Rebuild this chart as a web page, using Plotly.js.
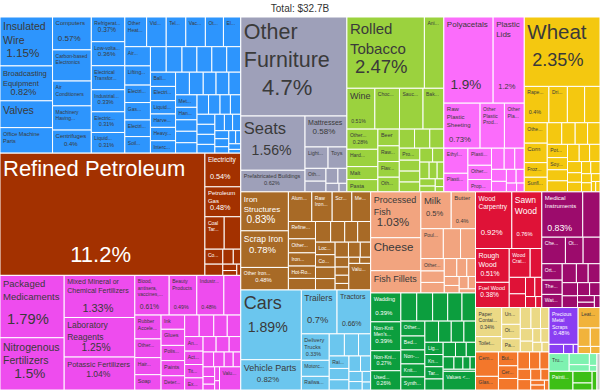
<!DOCTYPE html>
<html>
<head>
<meta charset="utf-8">
<script src="https://cdn.plot.ly/plotly-3.0.1.min.js"></script>
<style>html,body{margin:0;padding:0;background:#fff;}#chart{width:600px;height:390px;}</style>
</head>
<body>
<div id="chart"></div>
<script>
// ---- Data (share of total exports, %) ----
const totalLabel = "Total: $32.7B";

const sectorNames = ["Machines","Mineral Products","Chemical Products","Miscellaneous","Foodstuffs","Plastics and Rubbers","Vegetable Products","Metals","Transportation","Animal Products","Textiles","Wood Products","Instruments","Paper Goods","Stone and Glass","Precious Metals","Footwear and Headwear","Animal Hides","Arts and Antiques","Weapons"];
const sectorColors = ["#2d95fd","#a33100","#ee4cee","#9ea0b9","#9bd23e","#fb6cfb","#f4c810","#a86a26","#6bc6ee","#f2a47f","#0c9e3e","#df1237","#9c0b6c","#ebd985","#f3772b","#8a3ef2","#f1b33b","#7ef2b0","#3dbf16","#c8c8c8"];
const sectorTextColors = ["#3a3a3a","#ffffff","#3a3a3a","#3a3a3a","#3a3a3a","#3a3a3a","#3a3a3a","#ffffff","#3a3a3a","#3a3a3a","#ffffff","#ffffff","#ffffff","#3a3a3a","#3a3a3a","#ffffff","#3a3a3a","#3a3a3a","#ffffff","#3a3a3a"];

const machinesNames = ["Insulated Wire","Broadcasting Equipment","Valves","Office Machine Parts","Computers","Carbon-based Electronics","Air Conditioners","Machinery Having Individual Functions","Centrifuges","Refrigerators","Low-voltage Protection Equipment","Electrical Transformers","Industrial Printers","Electric Motors","Liquid Pumps","Other Heating Machinery","Video Displays","Telephones","Vacuum Cleaners","Other Electrical Machinery","Electric Heaters","Air Pumps","Lifting Machinery","Electric Soldering Equipment","Gas Turbines","Electrical Control Boards","Soil Preparation Machinery","Engine Parts","Other Office Machines","Electric Batteries","Washing Machines","Pulley Systems","Transmissions","Ball Bearings","Electrical Ignitions","Liquid Dispensers","Harvesting Machinery","Heavy Machinery","Interchangeable Tool Parts","Integrated Circuits","Oil Pumps","Laundry Machines","Electric Filament","Semiconductor Devices","Metalworking Machines","Hand-held Tools","Printed Circuit Boards","Packing Machinery","Other Engines","Spark-ignition Engines","Nuclear Reactors","Electric Generating Sets","Machine Parts","Dishwashers","Electric Fans","Microphones","Textile Machinery","Other Agricultural Machinery","Sewing Machines","Electric Sound Equipment","Cutting Blades","Tool Plates","Electric Lamps","Capacitors","Resistors","Calculators","Typewriters"];
const machinesValues = [1.15,0.82,0.63,0.6,0.57,0.54,0.43,0.42,0.4,0.37,0.36,0.36,0.33,0.31,0.31,0.29,0.26,0.26,0.26,0.24,0.23,0.22,0.22,0.2,0.2,0.19,0.19,0.18,0.18,0.17,0.17,0.17,0.16,0.16,0.16,0.15,0.15,0.15,0.14,0.14,0.14,0.13,0.13,0.12,0.12,0.12,0.11,0.11,0.1,0.1,0.1,0.09,0.09,0.08,0.08,0.08,0.07,0.07,0.06,0.06,0.05,0.05,0.04,0.04,0.03,0.03,0.02,0.02];

const mineralNames = ["Refined Petroleum","Electricity","Petroleum Gas","Coal Tar Oil","Peat","Coke","Sulphur","Salt","Asphalt","Gypsum","Clays","Quartz"];
const mineralValues = [11.2,0.54,0.48,0.28,0.24,0.12,0.09,0.07,0.05,0.04,0.03,0.02];

const chemicalNames = ["Packaged Medicaments","Nitrogenous Fertilizers","Mixed Mineral or Chemical Fertilizers","Laboratory Reagents","Potassic Fertilizers","Blood, antisera, vaccines, toxins and cultures","Beauty Products","Industrial Fatty Acids, Oils and Alcohols","Pesticides","Rubber Accelerators","Other Chemical Products","Hair Products","Soap","Ink","Glues","Polishes","Paints","Detergents","Vitamins","Medicaments","Perfumes","Essential Oils","Antibiotics","Activated Carbon","Titanium Oxides","Explosives","Acyclic Alcohols","Carboxylic Acids","Hydrogen","Sulfuric Acid","Ammonia","Nitrogen Compounds","Enzymes","Dextrins","Photographic Film","Matches","Gelatin","Other Fertilizers","Values < 0.15%"];
const chemicalValues = [1.79,1.5,1.33,1.25,1.04,0.61,0.49,0.48,0.3,0.28,0.22,0.2,0.18,0.15,0.17,0.16,0.16,0.15,0.14,0.14,0.13,0.13,0.12,0.11,0.11,0.1,0.09,0.09,0.08,0.07,0.07,0.06,0.05,0.05,0.04,0.03,0.03,0.02,0.22];

const miscNames = ["Other Furniture","Seats","Prefabricated Buildings","Mattresses","Lighting Fixtures","Toys","Other Toys","Brooms","Pens","Lighters","Buttons","Combs"];
const miscValues = [4.7,1.56,0.62,0.58,0.22,0.18,0.12,0.1,0.08,0.06,0.05,0.03];

const foodNames = ["Rolled Tobacco","Animal Food","Wine","Chocolate","Sauces and Seasonings","Baked Goods","Other Edible Preparations","Hard Liquor","Malt","Pasta","Beer","Raw Sugar","Flavored Water","Other Vegetable Preparations","Other Processed Fruits","Animal Meal","Coffee and Tea Extracts","Processed Tomatoes","Fruit Juice","Flour","Sugar Confectionery","Soups","Vinegar","Water","Processed Mushrooms","Vegetable Juices","Yeast","Ice","Cocoa Powder","Cereal Flakes"];
const foodValues = [2.47,0.62,0.51,0.45,0.43,0.38,0.28,0.24,0.18,0.17,0.16,0.15,0.15,0.14,0.13,0.13,0.12,0.11,0.1,0.1,0.09,0.08,0.07,0.07,0.06,0.05,0.05,0.04,0.03,0.02];

const plasticNames = ["Polyacetals","Plastic Lids","Raw Plastic Sheeting","Other Plastic Products","Other Plastic Sheetings","Ethylene Polymers","Plastic Pipes","Plastic Housewares","Other Rubber Products","Propylene Polymers","Rubber Tires","Vinyl Chloride Polymers","Styrene Polymers","Rubber Pipes","Plastic Floor Coverings","Rubber Belts","Synthetic Rubber","Polyamides","Rubber Apparel"];
const plasticValues = [1.9,1.2,0.73,0.49,0.4,0.27,0.2,0.18,0.15,0.13,0.12,0.1,0.09,0.08,0.07,0.06,0.05,0.04,0.03];

const vegetableNames = ["Wheat","Rapeseed","Dried Legumes","Barley","Seed Oils","Other Vegetables","Corn","Frozen Vegetables","Sunflower Seeds","Rapeseed Oil","Oats","Apples and Pears","Cut Flowers","Potatoes","Soybeans","Rye","Berries","Onions","Hops","Cabbages","Mushrooms","Tomatoes","Other Oily Seeds","Buckwheat","Seeds for Sowing","Spices","Raw Tobacco","Lettuce","Carrots","Plums"];
const vegetableValues = [2.35,0.4,0.3,0.28,0.25,0.21,0.2,0.15,0.15,0.14,0.13,0.12,0.12,0.12,0.11,0.1,0.1,0.09,0.08,0.08,0.07,0.06,0.06,0.05,0.05,0.04,0.04,0.03,0.02,0.02];

const metalNames = ["Iron Structures","Scrap Iron","Other Iron Products","Aluminium Plating","Raw Iron Bars","Scrap Aluminium","Metal Office Supplies","Refined Copper","Other Aluminium Products","Iron Fasteners","Hot-Rolled Iron","Aluminium Bars","Iron Blocks","Hand Tools","Iron Wire","Iron Pipes","Locks","Copper Plating","Copper Wire","Metal Tanks","Cutlery","Iron Sheet Piling","Stranded Iron Wire","Zinc","Lead","Kitchen Utensils","Nails","Tin","Screws","Values < 0.15%"];
const metalValues = [0.83,0.78,0.48,0.31,0.27,0.26,0.25,0.21,0.17,0.16,0.15,0.14,0.14,0.13,0.12,0.12,0.11,0.11,0.1,0.1,0.09,0.08,0.07,0.06,0.05,0.05,0.04,0.03,0.03,0.26];

const transportNames = ["Cars","Vehicle Parts","Trailers","Tractors","Delivery Trucks","Motorcycles","Railway Cargo Containers","Bicycles","Recreational Boats","Buses","Railway Passenger Cars","Other Boats","Aircraft Parts","Motorcycle Parts","Special Purpose Vehicles","Railway Freight Cars","Baby Carriages","Cycle Parts","Helicopters"];
const transportValues = [1.89,0.82,0.7,0.66,0.33,0.2,0.17,0.15,0.14,0.12,0.11,0.1,0.09,0.08,0.07,0.06,0.05,0.04,0.03];

const animalNames = ["Processed Fish","Cheese","Fish Fillets","Milk","Butter","Poultry Meat","Concentrated Milk","Bovine Meat","Other Meat","Eggs","Pig Meat","Non-fillet Frozen Fish","Honey","Horse Meat","Frozen Bovine Meat","Crustaceans","Whey","Fish Meal","Feathers"];
const animalValues = [1.03,0.74,0.5,0.5,0.4,0.3,0.23,0.2,0.13,0.12,0.11,0.1,0.08,0.07,0.06,0.05,0.05,0.04,0.03];

const textileNames = ["Wadding","Non-Knit Men's Suits","Non-Knit Women's Suits","Used Clothing","Knit T-shirts","Non-Knit Men's Shirts","Knit Sweaters","Non-Knit Women's Coats","Knit Women's Suits","Other Cloth Articles","Bed Linen","Non-Knit Active Wear","Knit Socks","Synthetic Filament Yarn","Carpets","Knit Men's Suits","Non-Knit Men's Coats","Felt","Light Synthetic Cotton Fabric","Knit Babies' Garments","Tarpaulins","Twine","Textile Wall Coverings","Hat Shapes","Rubber Textiles","Knit Gloves","Labels","Tulles","Synthetic Yarn","Wool","Values < 0.15%"];
const textileValues = [0.39,0.39,0.27,0.26,0.2,0.2,0.19,0.18,0.17,0.16,0.15,0.15,0.14,0.14,0.13,0.12,0.12,0.11,0.1,0.1,0.1,0.09,0.08,0.07,0.06,0.06,0.05,0.04,0.03,0.03,0.27];

const woodNames = ["Wood Carpentry","Sawn Wood","Rough Wood","Fuel Wood","Wood Crates","Other Wood Articles","Plywood","Wood Fiberboard","Particle Board","Wood Frames","Wood Kitchenware","Cork"];
const woodValues = [0.92,0.76,0.51,0.38,0.27,0.15,0.12,0.1,0.08,0.06,0.05,0.03];

const instrumentNames = ["Medical Instruments","Optical Fibers","Chemical Analysis Instruments","Other Measuring Instruments","X-Ray Equipment","Orthopedic Appliances","Thermostats","Watches","Electrical Power Meters","Lenses","Liquid Meters","Ophthalmic Instruments","Photo Lab Equipment","Survey Instruments","Dental Products","Clocks","Gauges","Projectors"];
const instrumentValues = [0.83,0.35,0.28,0.21,0.2,0.15,0.13,0.12,0.12,0.1,0.1,0.09,0.08,0.07,0.06,0.05,0.04,0.03];

const paperNames = ["Paper Containers","Toilet Paper","Uncoated Paper","Other Paper","Paper Labels","Coated Paper","Printed Material","Kraft Paper","Paper Notebooks","Books","Cellulose Fibers","Newspapers","Wallpaper","Paper Pulp"];
const paperValues = [0.34,0.18,0.14,0.12,0.11,0.1,0.09,0.08,0.07,0.06,0.05,0.05,0.04,0.03];

const stoneNames = ["Cement Articles","Glass Bottles","Building Stone","Ceramic Bricks","Cement","Float Glass","Glass Fibers","Insulating Glass","Mineral Wool","Ceramic Tiles","Glassware","Stone Processing Machines","Abrasive Powder","Mica","Asbestos"];
const stoneValues = [0.25,0.14,0.12,0.11,0.1,0.09,0.08,0.07,0.06,0.06,0.05,0.04,0.03,0.03,0.02];

const preciousNames = ["Precious Metal Scraps","Jewellery","Silver","Imitation Jewellery"];
const preciousValues = [0.48,0.06,0.04,0.02];

const footwearNames = ["Leather Footwear","Rubber Footwear","Textile Footwear","Footwear Parts","Hats"];
const footwearValues = [0.2,0.1,0.08,0.04,0.03];

const hidesNames = ["Trunks and Cases","Bovine Hides","Leather Apparel","Raw Hides","Saddlery"];
const hidesValues = [0.16,0.1,0.06,0.04,0.02];

const artsNames = ["Paintings","Collector's Items","Antiques","Sculptures"];
const artsValues = [0.2,0.1,0.06,0.04];

const weaponsNames = ["Ammunition"];
const weaponsValues = [0.05];

// ---- Build treemap ----
const groups = [
  [machinesNames, machinesValues],[mineralNames, mineralValues],[chemicalNames, chemicalValues],
  [miscNames, miscValues],[foodNames, foodValues],[plasticNames, plasticValues],
  [vegetableNames, vegetableValues],[metalNames, metalValues],[transportNames, transportValues],
  [animalNames, animalValues],[textileNames, textileValues],[woodNames, woodValues],
  [instrumentNames, instrumentValues],[paperNames, paperValues],[stoneNames, stoneValues],
  [preciousNames, preciousValues],[footwearNames, footwearValues],[hidesNames, hidesValues],
  [artsNames, artsValues],[weaponsNames, weaponsValues]
];

const ids = [], labels = [], parents = [], values = [], colors = [], templates = [], fsizes = [], fcolors = [], lwidths = [];
sectorNames.forEach((s, i) => {
  ids.push("S" + i); labels.push(s); parents.push(""); values.push(0);
  colors.push(sectorColors[i]); templates.push("");
  fsizes.push(8); fcolors.push(sectorTextColors[i]); lwidths.push(1.5);
});
groups.forEach((g, i) => {
  g[0].forEach((n, j) => {
    ids.push("S" + i + "-" + j); labels.push(n); parents.push("S" + i); values.push(g[1][j]);
    colors.push(sectorColors[i]); templates.push("");
    fsizes.push(8); fcolors.push(sectorTextColors[i]); lwidths.push(1);
  });
});

const FONT = "Liberation Sans, Arial, sans-serif";
const trace = {
  type: "treemap",
  ids: ids, labels: labels, parents: parents, values: values,
  branchvalues: "remainder",
  sort: false,
  texttemplate: templates,
  textposition: "top left",
  hoverinfo: "none",
  textfont: {family: FONT, size: fsizes, color: fcolors},
  insidetextfont: {family: FONT, size: fsizes, color: fcolors},
  marker: {colors: colors, line: {color: "#ffffff", width: lwidths}, pad: {t: 0, l: 0, r: 0, b: 0}},
  tiling: {packing: "squarify", squarifyratio: 1.618, pad: 0},
  pathbar: {visible: false},
  root: {color: "#ffffff"}
};

const layout = {
  width: 600, height: 390,
  margin: {l: 0, r: 0, t: 17, b: 0},
  paper_bgcolor: "#ffffff",
  title: {text: totalLabel, font: {family: FONT, size: 10, color: "#333"}, x: 0.5, xanchor: "center", y: 0.978, yref: "container", yanchor: "middle"},
  showlegend: false
};

// ---- Label fitting (style only): wrap / size labels to the tile drawn by Plotly ----
const cvs = document.createElement("canvas");
const ctx = cvs.getContext("2d");
function tw(s, fs) { ctx.font = fs + "px 'Liberation Sans'"; return ctx.measureText(s).width; }
function esc(s) { return s.replace(/&/g, "&amp;").replace(/</g, "&lt;").replace(/>/g, "&gt;"); }
function wrap(words, fs, maxW) {
  const lines = []; let cur = "";
  for (const w of words) {
    const test = cur ? cur + " " + w : w;
    if (tw(test, fs) <= maxW) { cur = test; }
    else {
      if (!cur) return null;
      lines.push(cur); cur = w;
      if (tw(w, fs) > maxW) return null;
    }
  }
  if (cur) lines.push(cur);
  return lines;
}
function ellipsize(s, fs, maxW) {
  if (tw(s + "...", fs) <= maxW) return s + "...";
  let t = s;
  while (t.length > 1 && tw(t + "...", fs) > maxW) t = t.slice(0, -1);
  return t.length > 1 ? t + "..." : "";
}
function truncWrap(words, fs, maxW, maxLines) {
  const lines = []; let cur = "";
  for (let k = 0; k < words.length; k++) {
    const w = words[k];
    const test = cur ? cur + " " + w : w;
    if (tw(test, fs) <= maxW) { cur = test; continue; }
    if (cur) {
      if (lines.length + 1 >= maxLines) { lines.push(ellipsize(cur, fs, maxW)); return lines; }
      lines.push(cur); cur = "";
    }
    if (tw(w, fs) <= maxW) { cur = w; }
    else { const e = ellipsize(w, fs, maxW); if (e) lines.push(e); return lines.length ? lines : null; }
  }
  if (cur) lines.push(cur);
  return lines;
}
function makeLabel(label, v, w, h) {
  if (w < 17 || h < 12) return {t: "", s: 6};
  const availW = w - 7;
  const words = label.split(" ");
  const budgetH = h * 0.5;
  const maxF = Math.min(22, 0.28 * Math.sqrt(w * h));
  let lf = 0, lines = null;
  for (let fs = Math.round(maxF * 2) / 2; fs >= 5; fs -= 0.5) {
    const L = wrap(words, fs, availW);
    if (L && (L.length - 1) * fs * 1.3 + fs <= budgetH) { lf = fs; lines = L; break; }
  }
  if (!lines) {
    lf = 5;
    const maxLines = Math.max(1, Math.floor((Math.max(budgetH, 6) - lf) / (lf * 1.3)) + 1);
    lines = truncWrap(words, lf, availW, maxLines);
    if (!lines || !lines.length) return {t: "", s: 6};
  }
  const pstr = v + "%";
  let pf = Math.min(22, 0.26 * h);
  while (pf > 5 && tw(pstr, pf) > availW * 0.75) pf -= 0.5;
  const lastBase = 3 + 0.9 * lf + (lines.length - 1) * 1.3 * lf;
  let txt = lines.map(esc).join("<br>");
  if (pf >= 5) {
    const target = 0.76 * h + 0.35 * pf;
    let kMin = 0;
    while ((kMin + 1) * 1.3 * lf < 0.78 * pf + 0.2 * lf) kMin++;
    let k = Math.max(kMin, Math.round((target - lastBase) / (1.3 * lf) - 1));
    while (k > kMin && lastBase + (k + 1) * 1.3 * lf + 0.22 * pf > h - 3) k--;
    if (lastBase + (k + 1) * 1.3 * lf + 0.22 * pf <= h - 3) {
      const pw = tw(pstr, pf);
      const nb = Math.max(0, Math.floor((w / 2 - pw / 2 - 4) / tw("\u00a0", pf)));
      txt += "<br>".repeat(k + 1) + '<span style="font-size:' + pf + 'px">' + "\u00a0".repeat(nb) + pstr + "</span>";
    }
  }
  return {t: txt, s: lf};
}

const gd = document.getElementById("chart");
Plotly.newPlot(gd, [trace], layout, {displayModeBar: false, staticPlot: true}).then(() => {
  const newT = templates.slice();
  const newS = fsizes.slice();
  gd.querySelectorAll("g.slice").forEach(el => {
    const d = el.__data__;
    if (!d || !d.data || !d.data.data) return;
    const i = ids.indexOf(d.data.data.id);
    if (i < 0 || parents[i] === "") return;
    let w = d.x1 - d.x0, h = d.y1 - d.y0;
    const path = el.querySelector("path.surface");
    if (path) { const bb = path.getBBox(); if (bb.width > 0) { w = bb.width; h = bb.height; } }
    const r = makeLabel(labels[i], values[i], w, h);
    newT[i] = r.t; newS[i] = r.s;
  });
  return Plotly.restyle(gd, {texttemplate: [newT], "textfont.size": [newS], "insidetextfont.size": [newS]});
});
</script>
</body>
</html>
